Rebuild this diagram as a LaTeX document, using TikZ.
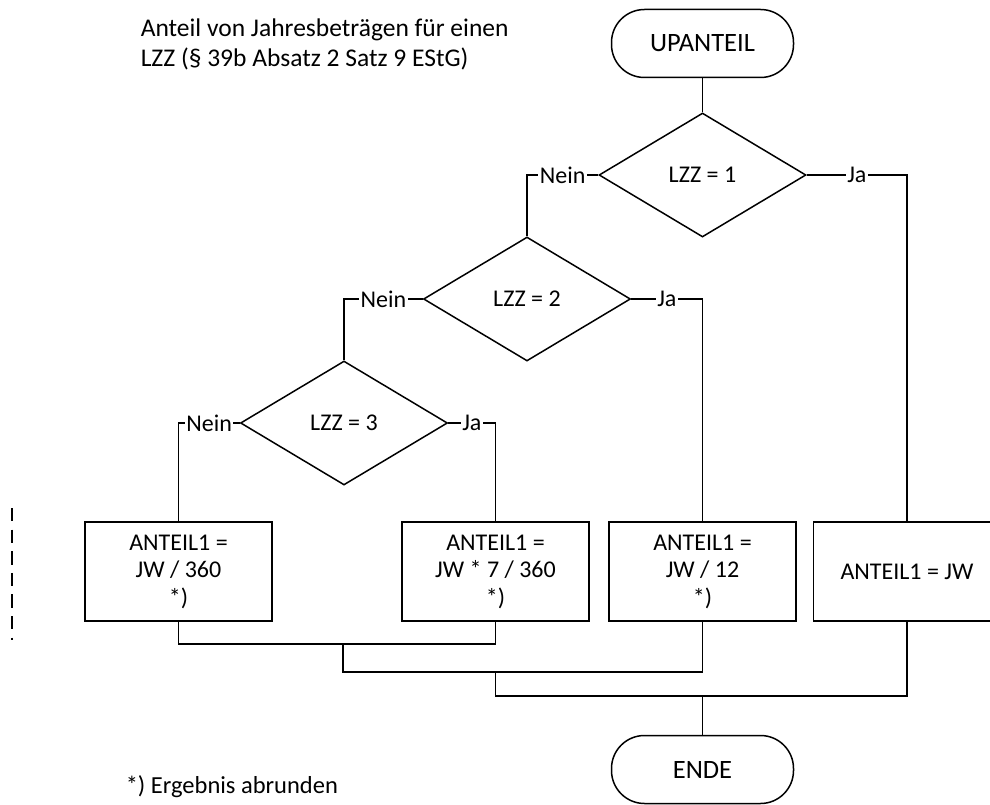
\documentclass[tikz,border=0pt]{standalone}
\usepackage{fontspec}
\setmainfont{Carlito}
\usetikzlibrary{shapes.geometric}
\begin{document}
\begin{tikzpicture}[x=1pt,y=-1pt,line width=1.5pt,
  every node/.style={font=\fontsize{24}{27.5}\selectfont},
  term/.style={draw,rectangle,rounded corners=33pt,minimum width=182pt,minimum height=68pt,inner sep=0pt,font=\fontsize{26.5}{30}\selectfont},
  dec/.style={draw,diamond,minimum width=207pt,minimum height=124pt,inner sep=0pt},
  proc/.style={draw,rectangle,minimum width=187pt,minimum height=99pt,inner sep=0pt,align=center},
  lbl/.style={fill=white,inner sep=1.5pt,midway},
  plain/.style={inner sep=0pt}]
\useasboundingbox (0,0) rectangle (990,805);

\node[plain,anchor=base west,align=left,font=\fontsize{25.5}{30}\selectfont] (title) at (140,67)
  {Anteil von Jahresbeträgen für einen\\LZZ (§ 39b Absatz 2 Satz 9 EStG)};
\node[plain,anchor=base west,font=\fontsize{24.5}{29}\selectfont] (foot) at (125,793) {*) Ergebnis abrunden};

\node[term] (up) at (702.5,43.5) {UPANTEIL};
\node[dec] (d1) at (702.5,175) {LZZ = 1};
\node[dec] (d2) at (527,299) {LZZ = 2};
\node[dec] (d3) at (344,423) {LZZ = 3};

\node[proc] (b1) at (178.5,571.5) {ANTEIL1 =\\JW / 360\\*)};
\node[proc] (b2) at (495.5,571.5) {ANTEIL1 =\\JW * 7 / 360\\*)};
\node[proc] (b3) at (702.5,571.5) {ANTEIL1 =\\JW / 12\\*)};
\node[proc] (b4) at (907,571.5) {ANTEIL1 = JW};

\node[term] (en) at (702.5,769.5) {ENDE};

\draw (up) -- (d1);
\draw (d1.west) -- node[lbl]{Nein} (d2.north |- d1.west) -- (d2.north);
\draw (d1.east) -- node[lbl]{Ja} (b4.north |- d1.east) -- (b4.north);
\draw (d2.west) -- node[lbl]{Nein} (d3.north |- d2.west) -- (d3.north);
\draw (d2.east) -- node[lbl]{Ja} (b3.north |- d2.east) -- (b3.north);
\draw (d3.west) -- node[lbl]{Nein} (b1.north |- d3.west) -- (b1.north);
\draw (d3.east) -- node[lbl]{Ja} (b2.north |- d3.east) -- (b2.north);

\coordinate (m1) at (343,644);
\coordinate (m2) at (495.5,672);
\coordinate (m3) at (702.5,696);
\draw (b1.south) |- (m1) -| (b2.south);
\draw (m1) |- (b3.south |- m2) -- (b3.south);
\draw (m2) |- (b4.south |- m3) -- (b4.south);
\draw (m3) -- (en.north);

\coordinate (dsa) at (12,508);
\coordinate (dsb) at (12,640);
\draw[line width=1.3pt,dash pattern=on 13.3pt off 8.3pt] (dsa) -- (dsb);
\end{tikzpicture}
\end{document}
